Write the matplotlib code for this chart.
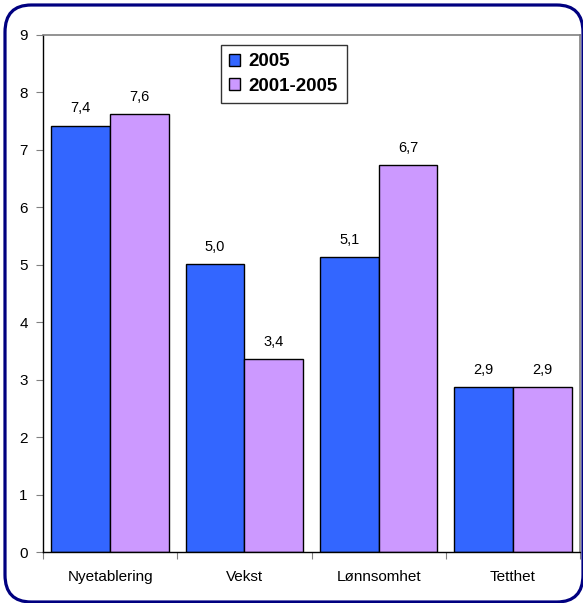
import matplotlib
matplotlib.use("Agg")
import matplotlib.pyplot as plt
import numpy as np
from matplotlib.patches import FancyBboxPatch

plt.rcParams['font.family'] = ['Liberation Sans', 'DejaVu Sans']

categories = ["Nyetablering", "Vekst", "Lønnsomhet", "Tetthet"]
series_names = ["2005", "2001-2005"]
values_2005 = [7.42, 5.01, 5.13, 2.87]
values_2001_2005 = [7.62, 3.36, 6.73, 2.87]
yticks = [0, 1, 2, 3, 4, 5, 6, 7, 8, 9]
colors = ["#3366FF", "#CC99FF"]

fig = plt.figure(figsize=(5.83, 6.03), dpi=100)
ax = fig.add_axes([43/583, 51/603, 537/583, 517/603])

x = np.arange(len(categories))
bw = 0.4375
for i, (vals, name) in enumerate([(values_2005, series_names[0]), (values_2001_2005, series_names[1])]):
    pos = x - bw/2 + i*bw
    ax.bar(pos, vals, width=bw, color=colors[i], edgecolor='black', linewidth=1.0, label=name, zorder=2)
    for xb, v in zip(pos, vals):
        ax.text(xb, v + 0.18, f"{v:.1f}".replace('.', ','), ha='center', va='bottom', fontsize=10.5)

ax.set_xlim(-0.5, len(categories) - 0.5)
ax.set_ylim(0, 9)
ax.set_yticks(yticks)
ax.set_yticklabels([str(t) for t in yticks], fontsize=11)
ax.set_xticks(np.arange(len(categories) + 1) - 0.5)
ax.set_xticklabels([])
ax.set_xticks(x, minor=True)
ax.set_xticklabels(categories, minor=True, fontsize=11)
ax.tick_params(axis='x', which='minor', length=0, pad=13)
ax.tick_params(axis='x', which='major', length=5, color='#808080', direction='out')
ax.tick_params(axis='y', length=5, color='#808080', direction='out', pad=6)

for s in ['top', 'right']:
    ax.spines[s].set_color('#808080')
    ax.spines[s].set_linewidth(1.2)
for s in ['left', 'bottom']:
    ax.spines[s].set_color('black')
    ax.spines[s].set_linewidth(1.0)

leg = ax.legend(loc='upper left', bbox_to_anchor=(0.331, 0.981), borderaxespad=0,
                prop={'weight': 'bold', 'size': 13.5}, frameon=True, fancybox=False,
                edgecolor='black', handlelength=0.6, handleheight=0.6,
                handletextpad=0.45, labelspacing=0.4, borderpad=0.45)
leg.get_frame().set_linewidth(1.0)
for h in leg.legend_handles:
    h.set_edgecolor('black')

# rounded outer border (partly beyond the right and bottom edges)
border = FancyBboxPatch((5/583, 1/603), 578/583, 597/603,
                        boxstyle="round,pad=0,rounding_size=0.045",
                        transform=fig.transFigure, facecolor='none',
                        edgecolor='#000080', linewidth=2.3, clip_on=False)
fig.patches.append(border)

fig.savefig("out.png", dpi=100)
